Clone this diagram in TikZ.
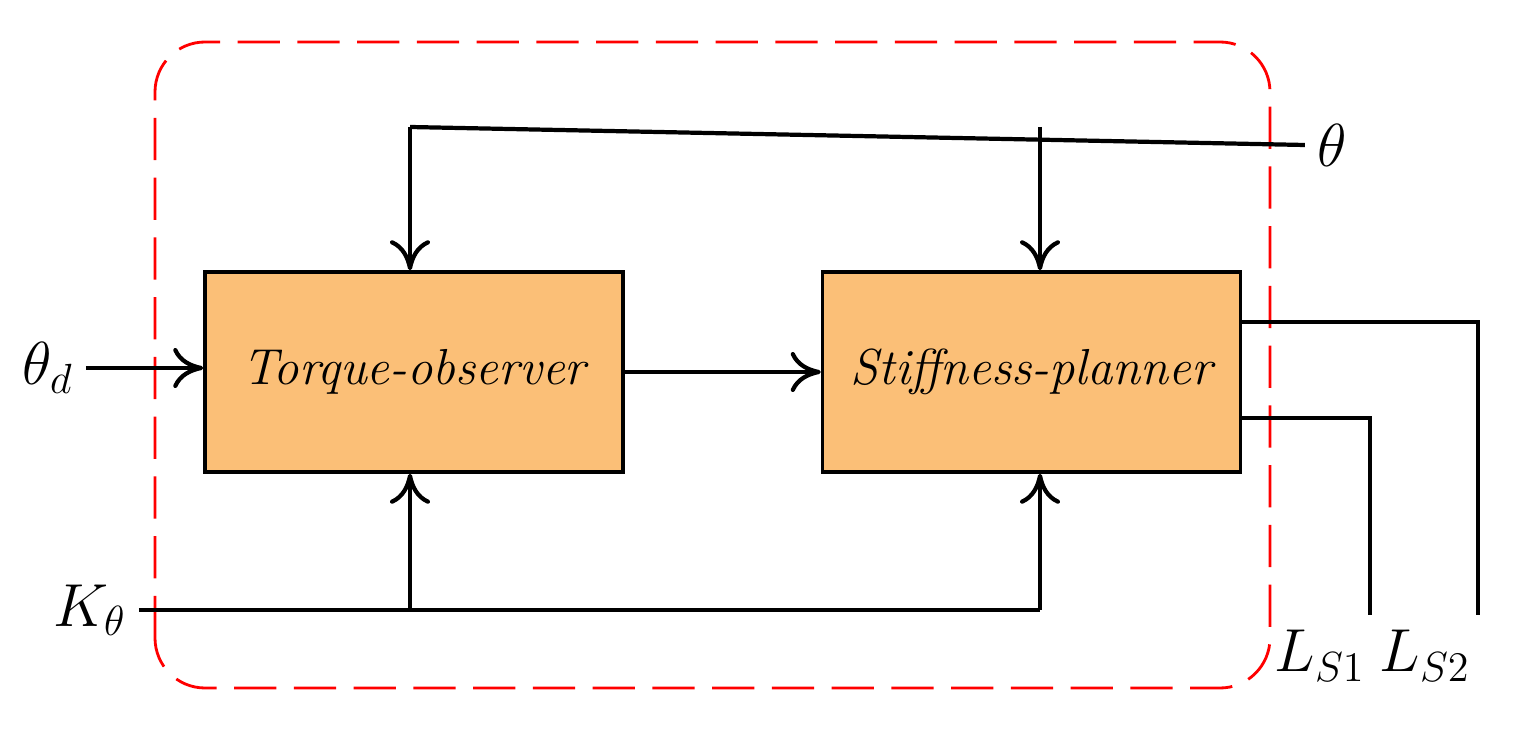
\documentclass[tikz,border=0pt]{standalone}
\usetikzlibrary{arrows.meta}
\definecolor{boxfill}{HTML}{FBBF77}
\begin{document}
\begin{tikzpicture}[
  blk/.style={draw,line width=1pt,fill=boxfill,minimum width=4.18cm,minimum height=2cm,font=\Large\itshape},
  ln/.style={line width=1.2pt},
  ar/.style={ln,-{To[length=3mm,width=4mm]}},
  lab/.style={font=\LARGE}]
\useasboundingbox (0,0) rectangle (15.19,7.33);
\draw[red,dash pattern=on 12pt off 5pt,line width=0.8pt,rounded corners=0.5cm] (1.55,0.45) rectangle (12.70,6.91);
\node[blk] (to) at (4.14,3.61) {Torque-observer};
\node[blk] (sp) at (10.315,3.61) {Stiffness-planner};
\node[lab] (th) at (13.32,5.88) {$\theta$};
\node[lab] (thd) at (0.48,3.65) {$\theta_d$};
\node[lab] (k) at (0.9,1.23) {$K_\theta$};
\node[lab,anchor=north] (l1) at (13.2,1.15) {$L_{S1}$};
\node[lab,anchor=north] (l2) at (14.25,1.15) {$L_{S2}$};
\coordinate (tA) at (4.10,6.06);
\coordinate (tB) at (10.40,6.06);
\coordinate (kA) at (4.10,1.23);
\coordinate (kB) at (10.40,1.23);
\draw[ln] (th.west) -- (tA);
\draw[ar] (tA) -- (tA|-to.north);
\draw[ar] (tB) -- (tB|-sp.north);
\draw[ar] (thd.east) -- (to.west|-thd.east);
\draw[ar] (to.east) -- (sp.west);
\draw[ln] (k.east) -- (kB);
\draw[ar] (kA) -- (kA|-to.south);
\draw[ar] (kB) -- (kB|-sp.south);
\draw[ln] (sp.east|-0,4.11) -| (14.78,1.18);
\draw[ln] (sp.east|-0,3.15) -| (13.70,1.18);
\end{tikzpicture}
\end{document}
